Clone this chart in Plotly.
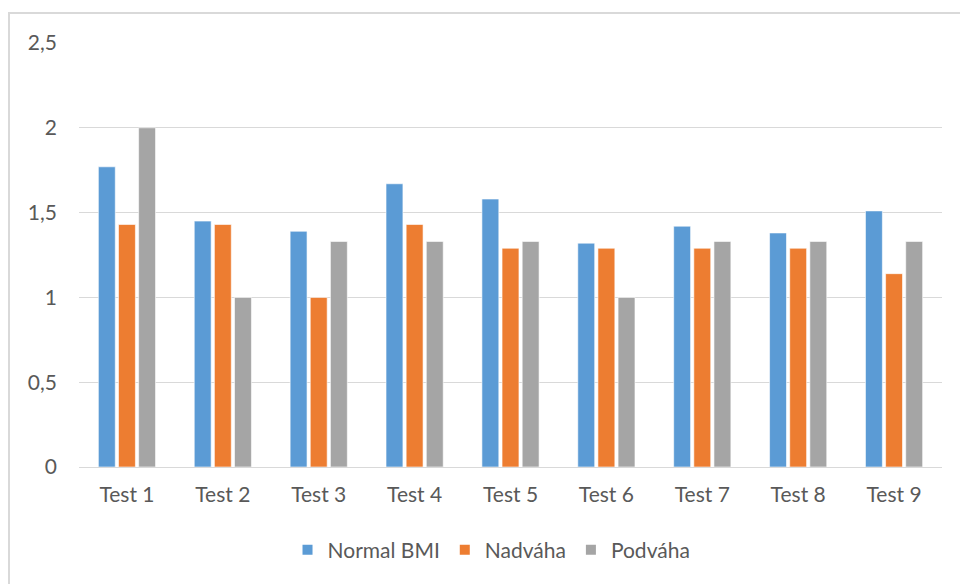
import plotly.graph_objects as go

categories = ["Test 1", "Test 2", "Test 3", "Test 4", "Test 5", "Test 6", "Test 7", "Test 8", "Test 9"]
normal_bmi = [1.77, 1.45, 1.39, 1.67, 1.58, 1.32, 1.42, 1.38, 1.51]
nadvaha = [1.43, 1.43, 1.00, 1.43, 1.29, 1.29, 1.29, 1.29, 1.14]
podvaha = [2.00, 1.00, 1.33, 1.33, 1.33, 1.00, 1.33, 1.33, 1.33]

y_tickvals = [0, 0.5, 1, 1.5, 2, 2.5]
y_ticktext = ["0", "0,5", "1", "1,5", "2", "2,5"]

series = [
    ("Normal BMI", normal_bmi, "#5B9BD5"),
    ("Nadváha", nadvaha, "#ED7D31"),
    ("Podváha", podvaha, "#A5A5A5"),
]

FONT = "Lato"
TEXT = "#595959"
GRID = "#D9D9D9"

fig = go.Figure()
for name, vals, color in series:
    fig.add_trace(go.Bar(
        x=categories, y=vals, name=name,
        marker=dict(color=color, line=dict(color="white", width=0.6)),
    ))

fig.update_layout(
    width=960, height=584,
    margin=dict(l=79, r=18, t=43, b=117),
    paper_bgcolor="white", plot_bgcolor="white",
    barmode="group", bargap=0.37, bargroupgap=0.16,
    font=dict(family=FONT, size=21, color=TEXT),
    legend=dict(
        orientation="h", x=0.478, xanchor="center", y=-0.196, yanchor="middle",
        font=dict(family=FONT, size=21, color=TEXT),
        itemwidth=30, itemsizing="constant", traceorder="normal",
    ),
    xaxis=dict(
        showgrid=False, showline=False, zeroline=False,
        ticks="", ticklabelstandoff=13,
        tickfont=dict(family=FONT, size=21, color=TEXT),
    ),
    yaxis=dict(
        range=[0, 2.5], tickvals=y_tickvals, ticktext=y_ticktext,
        showgrid=True, gridcolor=GRID, gridwidth=1,
        zeroline=True, zerolinecolor=GRID, zerolinewidth=1,
        showline=False, ticks="", ticklabelstandoff=21,
        tickfont=dict(family=FONT, size=21, color=TEXT),
    ),
    shapes=[dict(
        type="rect", xref="paper", yref="paper",
        x0=-0.0811, x1=1.2, y0=-0.6, y1=1.0708,
        line=dict(color=GRID, width=2), fillcolor="rgba(0,0,0,0)", layer="below",
    )],
)

fig.write_html("out.html")
